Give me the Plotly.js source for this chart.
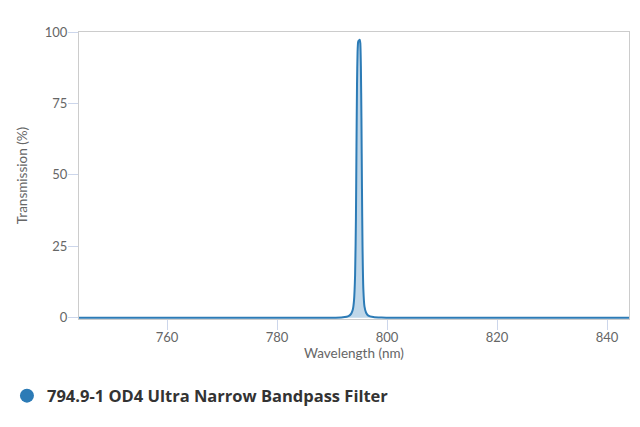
<!DOCTYPE html>
<html>
<head>
<meta charset="utf-8">
<script src="https://cdn.plot.ly/plotly-3.0.1.min.js"></script>
<style>
  html, body { margin: 0; padding: 0; background: #fff; }
  #plot { width: 640px; height: 427px; }
</style>
</head>
<body>
<div id="plot"></div>
<script>
// Transmission curve (nm, %)
const wavelength = [744, 790, 792, 793, 793.5, 793.8, 794.0, 794.2, 794.35, 794.45, 794.55,
                    794.65, 794.75, 794.85, 794.95, 795.05, 795.15, 795.25, 795.35, 795.45,
                    795.55, 795.7, 795.9, 796.2, 796.6, 797.5, 799, 801, 844];
const transmission = [0, 0, 0.2, 0.6, 1.5, 3, 6, 15, 35, 60, 82,
                      93, 96.5, 97, 96.8, 97.3, 96, 88, 70, 45,
                      25, 10, 4, 1.8, 0.8, 0.3, 0.1, 0, 0];
const seriesName = '794.9-1 OD4 Ultra Narrow Bandpass Filter';

const lineColor = '#2c7bb6';
const tickFont = { family: 'Lato, "Open Sans", sans-serif', size: 13, color: '#666666' };
const titleFont = { family: 'Lato, "Open Sans", sans-serif', size: 13.5, color: '#666666' };

const traces = [
    {
        x: wavelength,
        y: transmission,
        type: 'scatter',
        mode: 'lines',
        line: { color: lineColor, width: 2, shape: 'spline', smoothing: 0.6 },
        fill: 'tozeroy',
        fillcolor: 'rgba(44,123,182,0.3)',
        showlegend: false,
        hoverinfo: 'x+y'
    },
    // legend entry only (circle marker like the original)
    {
        x: [null],
        y: [null],
        type: 'scatter',
        mode: 'markers',
        marker: { color: lineColor, size: 14, symbol: 'circle' },
        name: seriesName,
        showlegend: true
    }
];

const layout = {
    width: 640,
    height: 427,
    margin: { l: 79, r: 11, t: 32, b: 108, autoexpand: false },
    paper_bgcolor: '#ffffff',
    plot_bgcolor: '#ffffff',
    showlegend: true,
    xaxis: {
        range: [744, 844],
        tickvals: [760, 780, 800, 820, 840],
        ticks: 'outside',
        ticklen: 10,
        tickcolor: '#ccd6eb',
        tickfont: tickFont,
        ticklabelstandoff: -4,
        showgrid: false,
        zeroline: false,
        showline: true,
        linecolor: '#cccccc',
        mirror: true,
        automargin: false,
        title: { text: 'Wavelength (nm)', font: titleFont, standoff: 4 }
    },
    yaxis: {
        range: [-0.4, 100],
        tickvals: [0, 25, 50, 75, 100],
        ticks: 'outside',
        ticklen: 10,
        tickcolor: '#ccd6eb',
        tickfont: tickFont,
        ticklabelstandoff: -2,
        showgrid: false,
        zeroline: false,
        showline: true,
        linecolor: '#cccccc',
        mirror: true,
        automargin: false,
        title: { text: 'Transmission (%)', font: titleFont, standoff: 14 }
    },
    legend: {
        orientation: 'h',
        x: -0.131,
        xanchor: 'left',
        y: -0.268,
        yanchor: 'middle',
        font: { family: '"Open Sans", Lato, sans-serif', size: 16.5, color: '#333333', weight: 'bold' },
        bgcolor: 'rgba(0,0,0,0)'
    }
};

Plotly.newPlot('plot', traces, layout, { displayModeBar: false, staticPlot: true });
</script>
</body>
</html>
